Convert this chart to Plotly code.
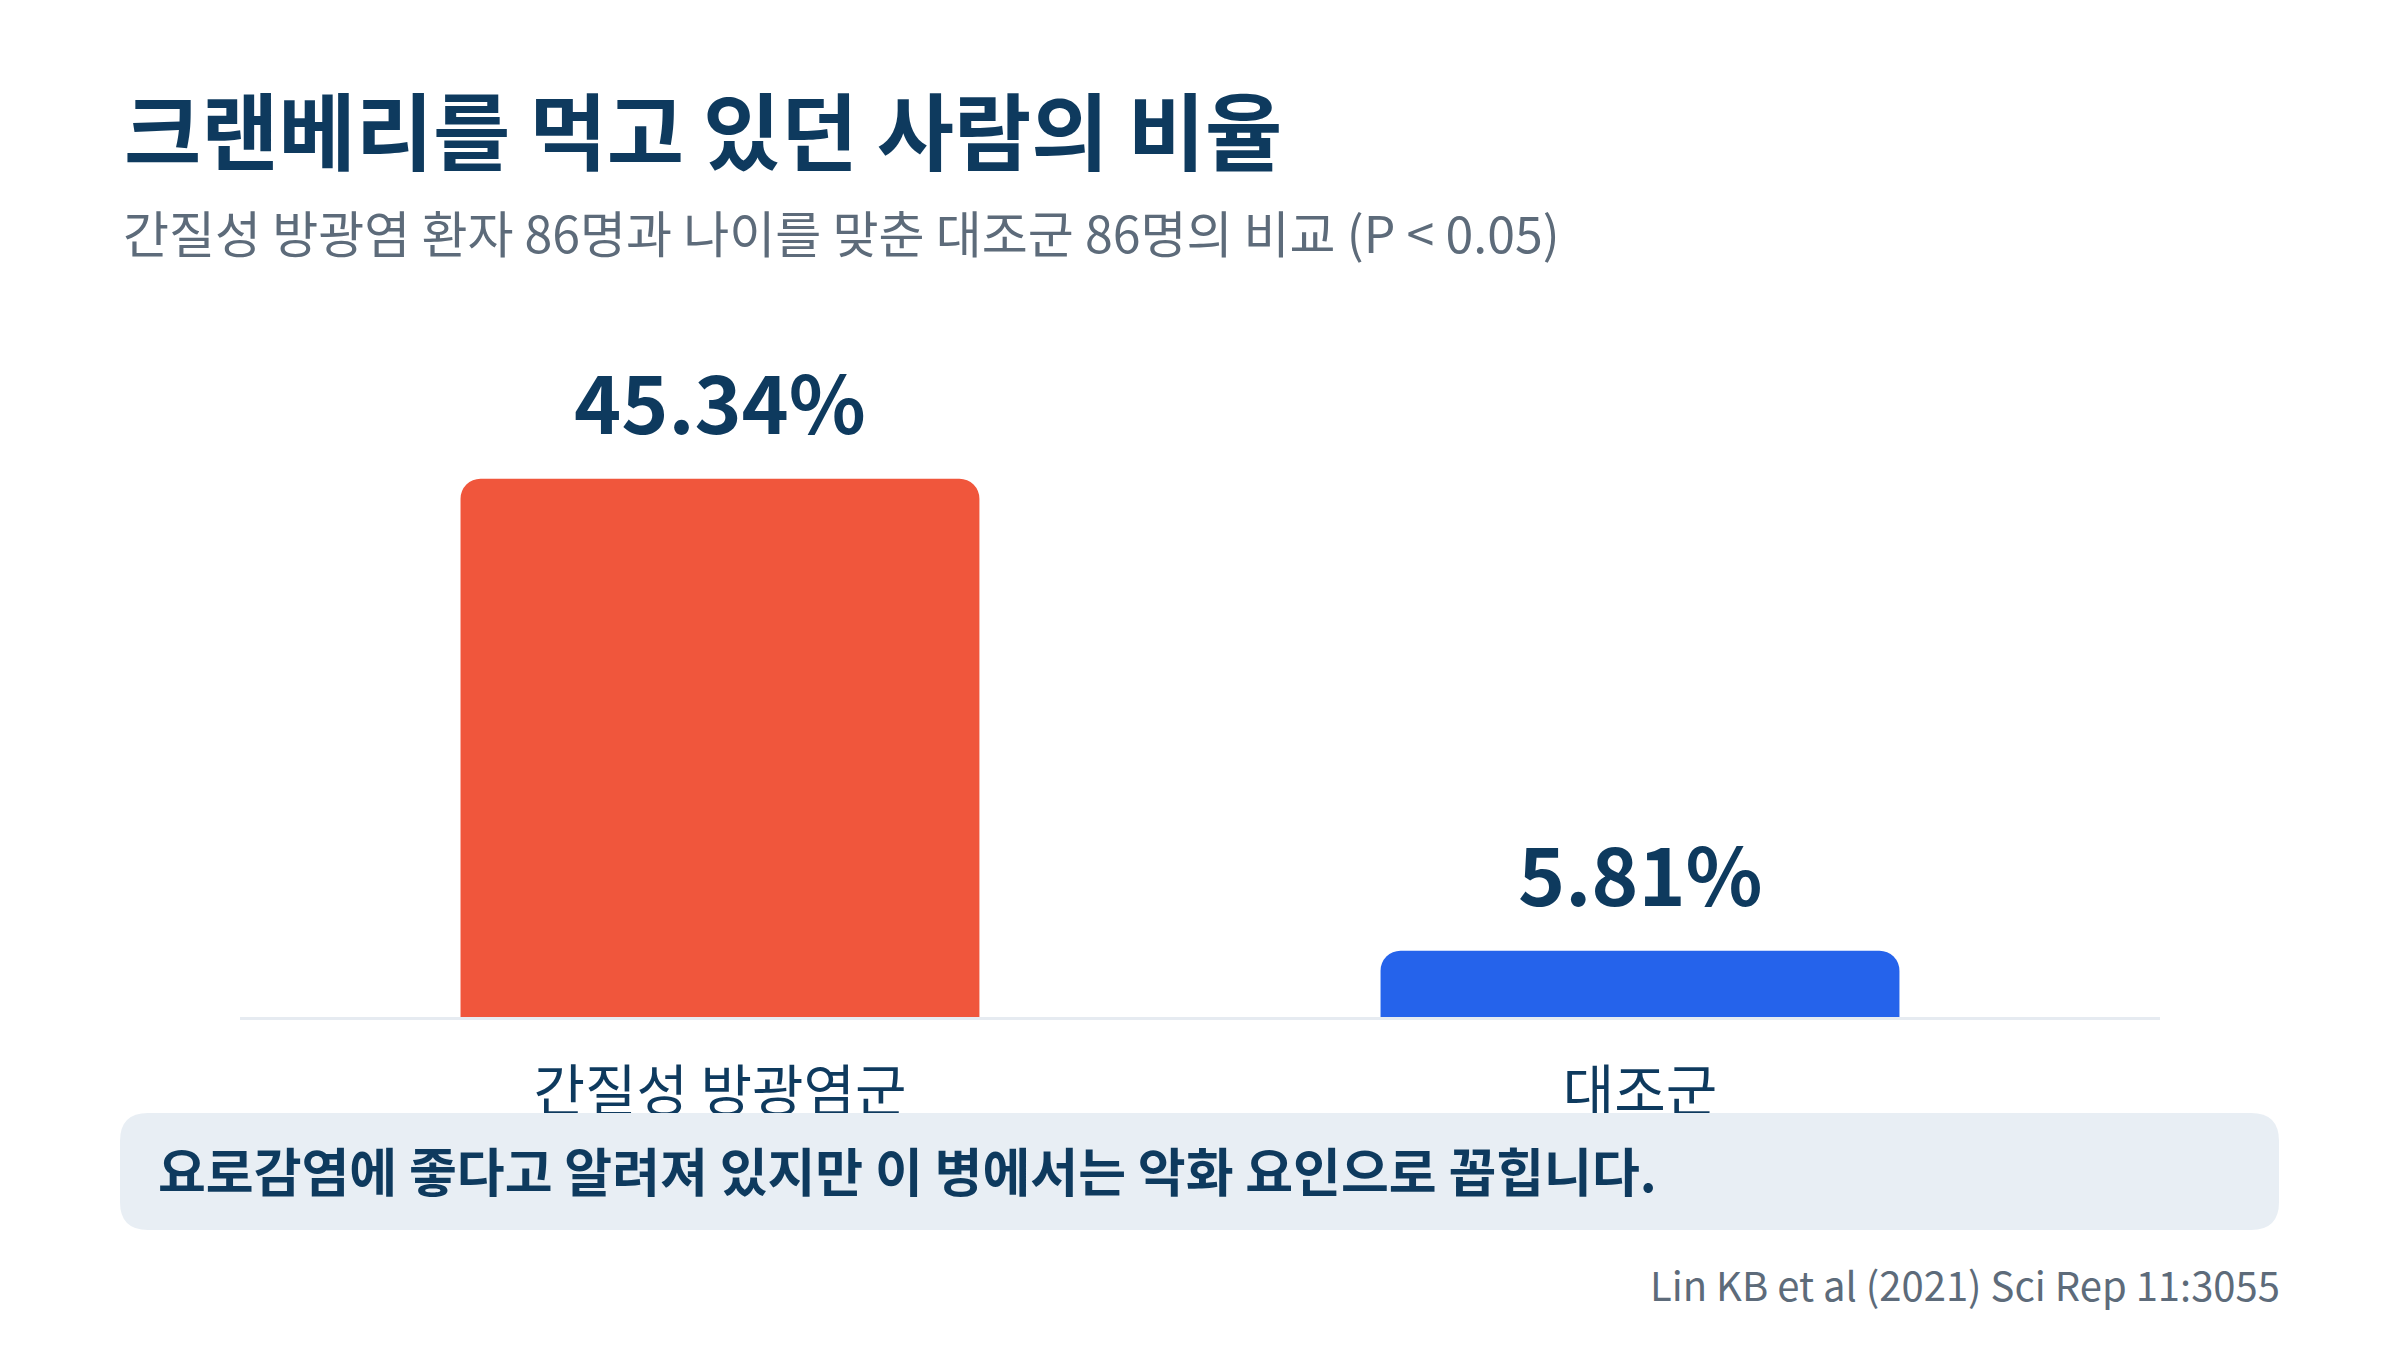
import plotly.graph_objects as go

# data
categories = ["간질성 방광염군", "대조군"]
values = [45.34, 5.81]
value_labels = ["45.34%", "5.81%"]
bar_colors = ["#F0563C", "#2563EB"]

title_text = "크랜베리를 먹고 있던 사람의 비율"
subtitle_text = "간질성 방광염 환자 86명과 나이를 맞춘 대조군 86명의 비교 (P < 0.05)"
note_text = "요로감염에 좋다고 알려져 있지만 이 병에서는 악화 요인으로 꼽힙니다."
source_text = "Lin KB et al (2021) Sci Rep 11:3055"

FONT = "Noto Sans CJK KR"
NAVY = "#0e3a5e"
GRAY = "#5d6b7a"

W, H = 2400, 1350
OFF = 8  # page body margin, shifts the whole figure on screen
# plot area wanted on screen: x 240..2160, y 423..1020
L = 240 - OFF
R = W - (2160 - OFF)
T = 423 - OFF
B = H - (1020 - OFF)
PW, PH = W - L - R, H - T - B


def px_x(px):
    # screen pixel -> paper x
    return (px - OFF - L) / PW


def px_y(py):
    # screen pixel -> paper y
    return (H - B - (py - OFF)) / PH


fig = go.Figure()
fig.add_trace(
    go.Bar(
        x=categories,
        y=values,
        width=0.564,
        marker=dict(color=bar_colors, cornerradius=20, line_width=0),
        hoverinfo="skip",
    )
)

for cat, val, lab in zip(categories, values, value_labels):
    fig.add_annotation(
        x=cat, y=val, text=lab, showarrow=False,
        yanchor="bottom", yshift=20,
        font=dict(family=FONT, size=80, color=NAVY, weight=700),
    )

# baseline
fig.add_shape(type="line", xref="paper", yref="y", x0=0, x1=1, y0=0, y1=0,
              line=dict(color="#e6ebf1", width=6), layer="above")

# note box, rounded corners in pixels relative to the plot's bottom-left corner
x0, x1, top, bot, r = -120, 2039, -93, -210, 28
box_path = (f"M {x0 + r},{top} L {x1 - r},{top} Q {x1},{top} {x1},{top - r} "
            f"L {x1},{bot + r} Q {x1},{bot} {x1 - r},{bot} "
            f"L {x0 + r},{bot} Q {x0},{bot} {x0},{bot + r} "
            f"L {x0},{top - r} Q {x0},{top} {x0 + r},{top} Z")
fig.add_shape(type="path", xref="paper", yref="paper",
              xsizemode="pixel", ysizemode="pixel", xanchor=0, yanchor=0,
              path=box_path, fillcolor="#e8eef4", line_width=0, layer="above")

fig.add_annotation(xref="paper", yref="paper", x=px_x(122), y=px_y(127),
                   text=title_text, showarrow=False, xanchor="left", yanchor="middle",
                   font=dict(family=FONT, size=84, color=NAVY, weight=700))
fig.add_annotation(xref="paper", yref="paper", x=px_x(121), y=px_y(231),
                   text=subtitle_text, showarrow=False, xanchor="left", yanchor="middle",
                   font=dict(family=FONT, size=50, color=GRAY))
fig.add_annotation(xref="paper", yref="paper", x=px_x(156), y=px_y(1169),
                   text=note_text, showarrow=False, xanchor="left", yanchor="middle",
                   font=dict(family=FONT, size=52, color=NAVY, weight=700))
fig.add_annotation(xref="paper", yref="paper", x=px_x(2282), y=px_y(1284),
                   text=source_text, showarrow=False, xanchor="right", yanchor="middle",
                   font=dict(family=FONT, size=40, color=GRAY))

fig.update_layout(
    width=W, height=H,
    margin=dict(l=L, r=R, t=T, b=B, pad=0, autoexpand=False),
    paper_bgcolor="white", plot_bgcolor="white",
    showlegend=False,
    font=dict(family=FONT, color=NAVY),
    xaxis=dict(range=[-0.5217, 1.5652], showgrid=False, zeroline=False, showline=False,
               ticks="", ticklabelstandoff=34,
               tickfont=dict(family=FONT, size=56, color=NAVY), fixedrange=True),
    yaxis=dict(range=[0, 50], visible=False, fixedrange=True),
)

fig.write_html("out.html")
